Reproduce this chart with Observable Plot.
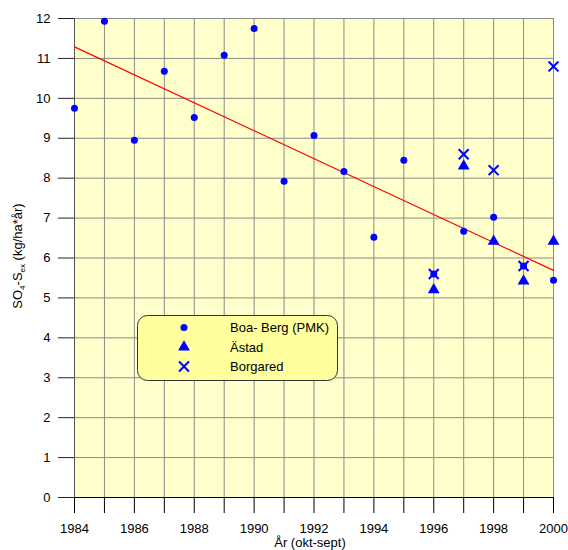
<!DOCTYPE html>
<html><head><meta charset="utf-8">
<script src="https://cdn.jsdelivr.net/npm/d3@7"></script>
<script src="https://cdn.jsdelivr.net/npm/@observablehq/plot@0.6"></script>
<style>
body{margin:0;background:#fff;font-family:"Liberation Sans",Arial,sans-serif}
</style>
</head><body><div id="chart"></div>
<script>
// ---- data ----
const years = [1984,1985,1986,1987,1988,1989,1990,1991,1992,1993,1994,1995,1996,1997,1998,1999,2000];
const boaYears  = [1984,1985,1986,1987,1988,1989,1990,1991,1992,1993,1994,1995,1996,1997,1998,1999,2000];
const boaValues = [9.75,11.93,8.95,10.68,9.52,11.08,11.75,7.92,9.07,8.17,6.52,8.45,5.6,6.67,7.02,5.8,5.44];
const astadYears  = [1996,1997,1998,1999,2000];
const astadValues = [5.2,8.3,6.42,5.42,6.42];
const borgYears  = [1996,1997,1998,1999,2000];
const borgValues = [5.6,8.6,8.2,5.8,10.8];
const yTicks = [0,1,2,3,4,5,6,7,8,9,10,11,12];
const xTickLabels = [1984,1986,1988,1990,1992,1994,1996,1998,2000];
const seriesNames = ["Boa- Berg (PMK)","Ästad","Borgared"];
const xLabel = "År (okt-sept)";

const boa = boaYears.map((x,i)=>({x, y:boaValues[i]}));
const astad = astadYears.map((x,i)=>({x, y:astadValues[i]}));
const borg = borgYears.map((x,i)=>({x, y:borgValues[i]}));

const plot = Plot.plot({
  width: 568, height: 550,
  marginLeft: 74, marginRight: 15, marginTop: 18, marginBottom: 53,
  x: {domain: [1984, 2000]},
  y: {domain: [0, 12]},
  style: {fontFamily: "'Liberation Sans', Arial, sans-serif", fontSize: "13px", color: "#000", background: "#fff", overflow: "visible"},
  marks: [
    Plot.frame({fill: "#ffffcc", stroke: null}),
    Plot.gridX(years, {stroke: "#8a8a8a", strokeOpacity: 1}),
    Plot.gridY(yTicks, {stroke: "#8a8a8a", strokeOpacity: 1}),
    Plot.axisX(years, {tickSize: 16, tickPadding: 10, stroke: "#000",
      tickFormat: d => xTickLabels.includes(d) ? String(d) : "", label: null}),
    Plot.axisY(yTicks, {tickSize: 16, tickPadding: 8, stroke: "#222", tickFormat: d => String(d), label: null}),
    Plot.ruleX([1984], {stroke: "#555"}),
    Plot.ruleY([0], {stroke: "#000"}),
    Plot.linearRegressionY(boa, {x: "x", y: "y", stroke: "#ff0000", ci: 0, strokeWidth: 1.2}),
    Plot.dot(astad, {x: "x", y: "y", symbol: "triangle", fill: "#0000ff", r: 4.4}),
    Plot.dot(boa, {x: "x", y: "y", symbol: "circle", fill: "#0000ff", r: 3.5}),
    Plot.dot(borg, {x: "x", y: "y", symbol: "times", stroke: "#0000ff", strokeWidth: 2, r: 4.6})
  ]
});
document.getElementById("chart").append(plot);

const svg = d3.select(plot);

// y-axis label with subscripts
const yl = svg.append("text")
  .attr("transform", "translate(22,256) rotate(-90)")
  .attr("text-anchor", "middle")
  .attr("font-size", 13)
  .attr("fill", "#000");
yl.append("tspan").text("SO");
yl.append("tspan").attr("font-size", 8).attr("dy", 3).text("4");
yl.append("tspan").attr("dy", -3).text("-S");
yl.append("tspan").attr("font-size", 8).attr("dy", 3).text("ex");
yl.append("tspan").attr("dy", -3).text(" (kg/ha*år)");

// x-axis label
svg.append("text")
  .attr("x", 310).attr("y", 547)
  .attr("text-anchor", "middle")
  .attr("font-size", 13)
  .attr("fill", "#000")
  .text(xLabel);

// legend
const lg = svg.append("g");
lg.append("rect")
  .attr("x", 137.5).attr("y", 315.5).attr("width", 200).attr("height", 65)
  .attr("rx", 10).attr("ry", 10)
  .attr("fill", "#ffff9e").attr("stroke", "#333").attr("stroke-width", 1);
const syms = [
  {t: d3.symbolCircle, s: Math.PI*3.5*3.5, fill: "#0000ff", stroke: "none", sw: 0},
  {t: d3.symbolTriangle, s: Math.PI*4.4*4.4, fill: "#0000ff", stroke: "none", sw: 0},
  {t: d3.symbolTimes, s: Math.PI*4.6*4.6, fill: "none", stroke: "#0000ff", sw: 2}
];
seriesNames.forEach((name, i) => {
  const cy = 327.5 + i*19.5;
  lg.append("path")
    .attr("transform", `translate(184,${cy})`)
    .attr("d", d3.symbol(syms[i].t, syms[i].s)())
    .attr("fill", syms[i].fill).attr("stroke", syms[i].stroke).attr("stroke-width", syms[i].sw);
  lg.append("text")
    .attr("x", 230).attr("y", cy + 4.5)
    .attr("text-anchor", "start")
    .attr("font-size", 13).attr("fill", "#000")
    .text(name);
});
</script>
</body></html>
